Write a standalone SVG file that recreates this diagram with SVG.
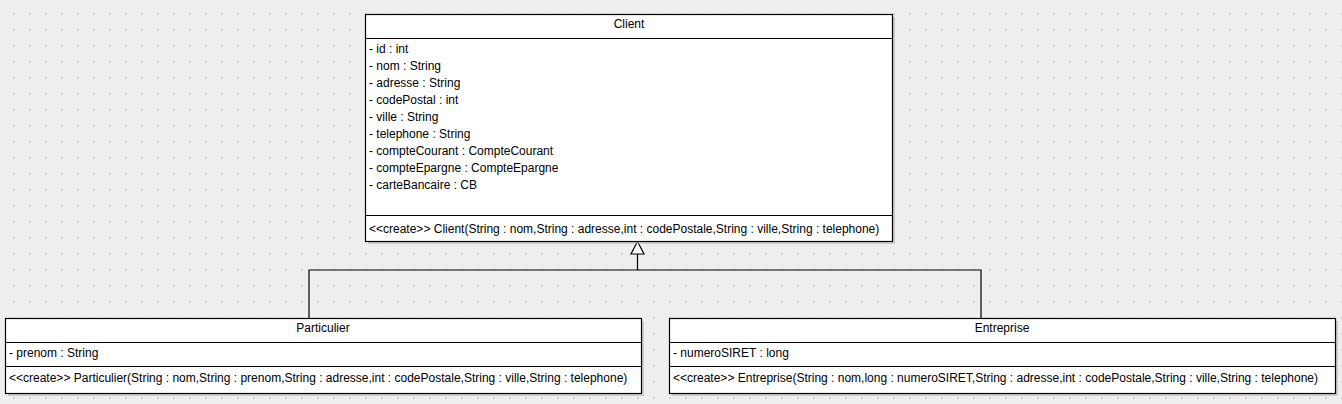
<svg xmlns="http://www.w3.org/2000/svg" width="1342" height="404" viewBox="0 0 1342 404">
<defs>
<pattern id="grid" x="13" y="13" width="16" height="16" patternUnits="userSpaceOnUse">
<rect x="0" y="0" width="2" height="2" fill="#d2d2d2"/>
</pattern>
<style>
.box{fill:#ffffff;stroke:#000000;stroke-width:1.2}
.shadow{fill:#b8b8b8;opacity:0.6}
.sep{stroke:#000000;stroke-width:1.2}
.t{font-family:"Liberation Sans",Arial,sans-serif;font-size:12px;fill:#000000}
.c{text-anchor:middle}
.conn{fill:none;stroke:#000000;stroke-width:1.2}
.head{fill:#ffffff;stroke:#000000;stroke-width:1.2}
</style>
</defs>
<rect width="1342" height="404" fill="#eeeeee"/>
<rect width="1342" height="404" fill="url(#grid)"/>

<g id="connectors">
<polyline class="conn" points="309,318 309,270 981,270 981,318"/>
<line class="conn" x1="637.5" y1="270" x2="637.5" y2="254"/>
<polygon class="head" points="637.5,241.5 631,254 644,254"/>
</g>

<g id="Client">
<rect class="shadow" x="368" y="17" width="527" height="227"/>
<rect class="box" x="365.5" y="14.5" width="527" height="227"/>
<line class="sep" x1="365.5" y1="38.5" x2="892.5" y2="38.5"/>
<line class="sep" x1="365.5" y1="215.5" x2="892.5" y2="215.5"/>
<text class="t c" x="629" y="28">Client</text>
<text class="t" x="369" y="53">- id : int</text>
<text class="t" x="369" y="70">- nom : String</text>
<text class="t" x="369" y="87">- adresse : String</text>
<text class="t" x="369" y="104">- codePostal : int</text>
<text class="t" x="369" y="121">- ville : String</text>
<text class="t" x="369" y="138">- telephone : String</text>
<text class="t" x="369" y="155">- compteCourant : CompteCourant</text>
<text class="t" x="369" y="172">- compteEpargne : CompteEpargne</text>
<text class="t" x="369" y="189">- carteBancaire : CB</text>
<text class="t" x="369" y="233">&lt;&lt;create&gt;&gt; Client(String : nom,String : adresse,int : codePostale,String : ville,String : telephone)</text>
</g>

<g id="Particulier">
<rect class="shadow" x="8" y="321" width="636" height="75"/>
<rect class="box" x="5.5" y="318.5" width="636" height="75"/>
<line class="sep" x1="5.5" y1="342.5" x2="641.5" y2="342.5"/>
<line class="sep" x1="5.5" y1="366.5" x2="641.5" y2="366.5"/>
<text class="t c" x="323" y="332">Particulier</text>
<text class="t" x="9" y="357">- prenom : String</text>
<text class="t" x="9" y="382">&lt;&lt;create&gt;&gt; Particulier(String : nom,String : prenom,String : adresse,int : codePostale,String : ville,String : telephone)</text>
</g>

<g id="Entreprise">
<rect class="shadow" x="672" y="321" width="666" height="75"/>
<rect class="box" x="669.5" y="318.5" width="666" height="75"/>
<line class="sep" x1="669.5" y1="342.5" x2="1335.5" y2="342.5"/>
<line class="sep" x1="669.5" y1="366.5" x2="1335.5" y2="366.5"/>
<text class="t c" x="1002" y="332">Entreprise</text>
<text class="t" x="673" y="357">- numeroSIRET : long</text>
<text class="t" x="673" y="382">&lt;&lt;create&gt;&gt; Entreprise(String : nom,long : numeroSIRET,String : adresse,int : codePostale,String : ville,String : telephone)</text>
</g>
</svg>
